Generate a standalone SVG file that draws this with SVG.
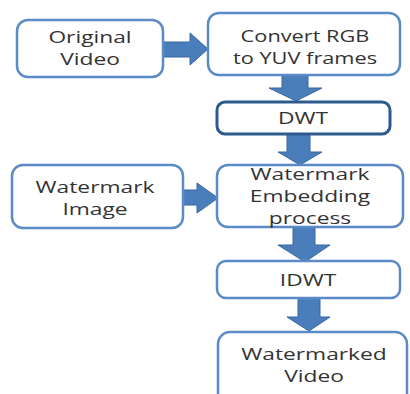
<svg xmlns="http://www.w3.org/2000/svg" width="410" height="394" viewBox="0 0 410 394">
  <style>
    .box { fill: #ffffff; stroke: #5B8BC6; stroke-width: 2.5; }
    .box-dark { fill: #ffffff; stroke: #2F5A8E; stroke-width: 3; }
    .arrow { fill: #4A7EBB; stroke: #3767A0; stroke-width: 1; }
    .label { font-family: "Open Sans", "Liberation Sans", sans-serif; font-size: 17px; fill: #333333; text-anchor: middle; }
  </style>
  <rect width="410" height="394" fill="#ffffff"/>

  <!-- block arrows between steps -->
  <g id="connectors">
    <polygon class="arrow" points="163,42 190,42 190,33 208,49 190,65 190,57 163,57"/>
    <polygon class="arrow" points="282,75 308,75 308,88 322,88 296,101 269,88 282,88"/>
    <polygon class="arrow" points="287,134 310,134 310,152 322,152 300,165 278,152 287,152"/>
    <polygon class="arrow" points="183,190 197,190 197,183 218,198 197,213 197,205 183,205"/>
    <polygon class="arrow" points="293,227 315,227 315,245 330,245 305,262 278,245 293,245"/>
    <polygon class="arrow" points="298,298 320,298 320,317 330,317 309,331 287,317 298,317"/>
  </g>

  <g id="original-video">
    <rect class="box" x="17" y="20" width="146" height="57" rx="11"/>
    <text class="label" transform="translate(90 0) scale(1.34 1)"><tspan x="0" y="43">Original</tspan><tspan x="0" y="65">Video</tspan></text>
  </g>

  <g id="convert-rgb-yuv">
    <rect class="box" x="208" y="13" width="192" height="62" rx="11"/>
    <text class="label" transform="translate(305 0) scale(1.28 1)"><tspan x="0" y="42">Convert RGB</tspan><tspan x="0" y="64">to YUV frames</tspan></text>
  </g>

  <g id="dwt">
    <rect class="box-dark" x="217" y="102" width="173" height="32" rx="8"/>
    <text class="label" transform="translate(303 0) scale(1.34 1)"><tspan x="0" y="124">DWT</tspan></text>
  </g>

  <g id="watermark-image">
    <rect class="box" x="12" y="165" width="171" height="63" rx="11"/>
    <text class="label" transform="translate(95 0) scale(1.34 1)"><tspan x="0" y="193">Watermark</tspan><tspan x="0" y="215">Image</tspan></text>
  </g>

  <g id="embedding">
    <rect class="box" x="217" y="165" width="186" height="62" rx="11"/>
    <text class="label" transform="translate(310 0) scale(1.34 1)"><tspan x="0" y="180">Watermark</tspan><tspan x="0" y="202">Embedding</tspan><tspan x="0" y="224">process</tspan></text>
  </g>

  <g id="idwt">
    <rect class="box" x="217" y="261" width="183" height="37" rx="9"/>
    <text class="label" transform="translate(308 0) scale(1.34 1)"><tspan x="0" y="286">IDWT</tspan></text>
  </g>

  <g id="watermarked-video">
    <rect class="box" x="218" y="332" width="189" height="80" rx="12"/>
    <text class="label" transform="translate(314 0) scale(1.34 1)"><tspan x="0" y="360">Watermarked</tspan><tspan x="0" y="382">Video</tspan></text>
  </g>
</svg>
